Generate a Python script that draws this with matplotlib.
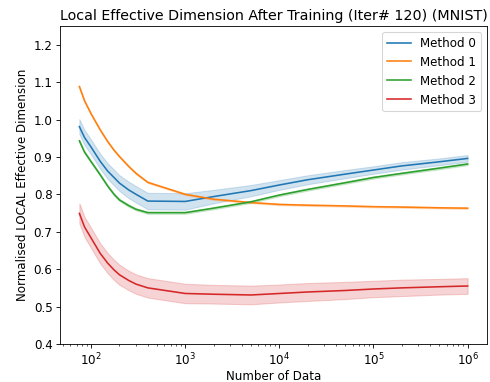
import matplotlib
matplotlib.use("Agg")
import matplotlib.pyplot as plt
import numpy as np

n_data = [75, 85, 100, 125, 150, 175, 200, 250, 300, 400, 1000, 2000, 5000, 10000,
          20000, 50000, 100000, 200000, 500000, 1000000]

labels = ["Method 0", "Method 1", "Method 2", "Method 3"]

method0 = [0.981, 0.952, 0.926, 0.888, 0.862, 0.845, 0.830, 0.812, 0.800, 0.782,
           0.781, 0.794, 0.810, 0.825, 0.839, 0.854, 0.865, 0.876, 0.887, 0.896]
method1 = [1.088, 1.050, 1.015, 0.972, 0.941, 0.918, 0.901, 0.875, 0.856, 0.832,
           0.800, 0.787, 0.778, 0.773, 0.771, 0.769, 0.767, 0.766, 0.764, 0.763]
method2 = [0.943, 0.913, 0.887, 0.852, 0.822, 0.800, 0.785, 0.770, 0.760, 0.751,
           0.751, 0.763, 0.780, 0.798, 0.813, 0.831, 0.845, 0.856, 0.870, 0.881]
method3 = [0.749, 0.713, 0.683, 0.642, 0.616, 0.598, 0.585, 0.570, 0.560, 0.550,
           0.535, 0.533, 0.531, 0.535, 0.539, 0.543, 0.547, 0.550, 0.553, 0.555]

std0 = [0.020, 0.020, 0.020, 0.020, 0.021, 0.021, 0.021, 0.022, 0.022, 0.022,
        0.022, 0.018, 0.015, 0.013, 0.012, 0.011, 0.010, 0.010, 0.009, 0.009]
std1 = [0.002] * len(n_data)
std2 = [0.003] * len(n_data)
std3 = [0.027, 0.027, 0.027, 0.027, 0.027, 0.027, 0.027, 0.026, 0.026, 0.026,
        0.026, 0.025, 0.025, 0.024, 0.024, 0.023, 0.022, 0.022, 0.021, 0.021]

means = [method0, method1, method2, method3]
stds = [std0, std1, std2, std3]

plt.rcParams["font.size"] = 11.2
plt.rcParams["axes.titlesize"] = 13.4

fig = plt.figure(figsize=(490 / 76.5, 382 / 76.5), dpi=76.5)
ax = fig.add_axes([0.1224, 0.0995, 0.8715, 0.8325])

x = np.array(n_data)
for lab, m, s in zip(labels, means, stds):
    m = np.array(m)
    s = np.array(s)
    line, = ax.plot(x, m, label=lab)
    ax.fill_between(x, m - s, m + s, color=line.get_color(), alpha=0.2)

ax.set_xscale("log")
ax.set_ylim(0.4, 1.25)
ax.set_xlabel("Number of Data", labelpad=1.5)
ax.set_ylabel("Normalised LOCAL Effective Dimension")
ax.set_title("Local Effective Dimension After Training (Iter# 120) (MNIST)")
ax.legend(loc="upper right")

fig.savefig("out.png", dpi=76.5)
